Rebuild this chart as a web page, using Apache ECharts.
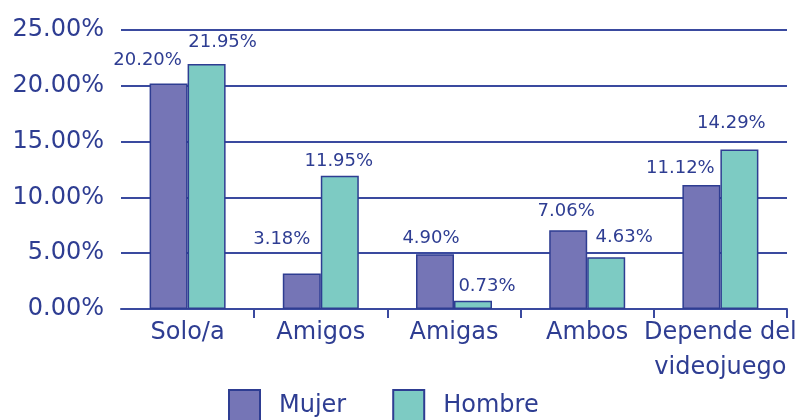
<!DOCTYPE html>
<html><head><meta charset="utf-8">
<script src="https://cdn.jsdelivr.net/npm/echarts@6/dist/echarts.min.js"></script>
<style>html,body{margin:0;padding:0;background:#fff}#c{width:800px;height:420px}</style>
</head><body><div id="c"></div>
<script>
// ---- data ----
const categories = ['Solo/a', 'Amigos', 'Amigas', 'Ambos', 'Depende del\nvideojuego'];
const seriesNames = ['Mujer', 'Hombre'];
const mujer = [20.20, 3.18, 4.90, 7.06, 11.12];
const hombre = [21.95, 11.95, 0.73, 4.63, 14.29];
const yMin = 0, yMax = 25, yStep = 5;

// ---- styling (label nudges, as in the source picture) ----
const mujerLabelOffset = [[-21, -9], [-20, -20], [-4, -2], [-2, -5], [-21, -3]];
const hombreLabelOffset = [[16, -8], [-1, 0], [14, -1], [18, -6], [-8, -12]];

const TXT = '#2e3d92';
const LINE = '#3a4a9f';
const FONT = 'DejaVu Sans';

const chart = echarts.init(document.getElementById('c'), null, { renderer: 'canvas' });

function pct(v) { return Number(v).toFixed(2) + '%'; }

function barData(vals, offs) {
  return vals.map((v, i) => ({ value: v, label: { offset: offs[i] } }));
}

chart.setOption({
  animation: false,
  textStyle: { fontFamily: FONT },
  grid: { left: 121, right: 13, top: 30, bottom: 111, containLabel: false, outerBoundsMode: 'none' },
  legend: {
    data: seriesNames,
    left: 228, top: 389, padding: 0,
    itemWidth: 31, itemHeight: 31, itemGap: 46,
    icon: 'rect',
    textStyle: { fontFamily: FONT, fontSize: 24, color: TXT, padding: [0, 0, 0, 14] }
  },
  xAxis: {
    type: 'category',
    data: categories,
    axisLine: { show: true, lineStyle: { color: LINE, width: 2 } },
    axisTick: { show: true, length: 9, interval: (i) => i !== 0, lineStyle: { color: LINE, width: 2 } },
    axisLabel: { fontFamily: FONT, fontSize: 24, color: TXT, margin: 6, lineHeight: 35, interval: 0 },
    splitLine: { show: false }
  },
  yAxis: {
    type: 'value',
    min: yMin, max: yMax, interval: yStep,
    axisLine: { show: false },
    axisTick: { show: false },
    axisLabel: { fontFamily: FONT, fontSize: 24, color: TXT, margin: 17, formatter: pct },
    splitLine: { show: true, lineStyle: { color: LINE, width: 2 } }
  },
  series: [
    {
      name: seriesNames[0], type: 'bar',
      data: barData(mujer, mujerLabelOffset),
      barWidth: 38, barGap: '0%',
      itemStyle: { color: '#7575b6', borderColor: '#2e3d92', borderWidth: 1.5 },
      label: { show: true, position: 'top', distance: 5, formatter: (p) => pct(p.value), fontFamily: FONT, fontSize: 18, color: TXT }
    },
    {
      name: seriesNames[1], type: 'bar',
      data: barData(hombre, hombreLabelOffset),
      barWidth: 38, barGap: '0%',
      itemStyle: { color: '#7dcbc3', borderColor: '#2e3d92', borderWidth: 1.5 },
      label: { show: true, position: 'top', distance: 5, formatter: (p) => pct(p.value), fontFamily: FONT, fontSize: 18, color: TXT }
    }
  ]
});
</script>
</body></html>
